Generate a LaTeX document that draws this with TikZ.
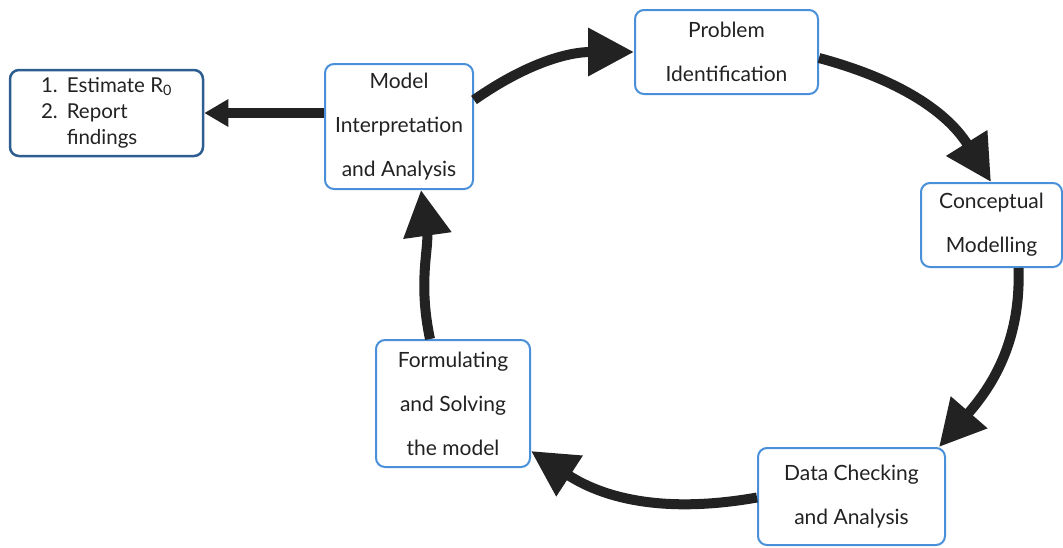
\documentclass[tikz,border=0pt]{standalone}
\usepackage{fontspec}
\setmainfont{Lato}
\usetikzlibrary{arrows.meta,positioning}
\definecolor{boxblue}{RGB}{74,144,217}
\definecolor{listblue}{RGB}{46,94,145}
\definecolor{arrowgray}{RGB}{34,34,34}

\begin{document}
\begin{tikzpicture}[x=1pt,y=1pt,>={Triangle[length=46pt,width=46pt]}]
    \tikzstyle{stage}=[rectangle,rounded corners=9pt,draw=boxblue,line width=2pt,align=center,fill=white,inner sep=0pt,text=arrowgray,font=\fontsize{21}{44}\selectfont]
    \tikzstyle{result}=[stage,draw=listblue,line width=2.5pt,font=\fontsize{20.5}{26}\selectfont]
    \tikzstyle{flow}=[draw=arrowgray,line width=10pt]

    \useasboundingbox (0,0) rectangle (1063,-547);

    \node[stage,minimum width=148pt,minimum height=125pt](interp) at (399,-126.5){Model\\Interpretation\\and Analysis};
    \node[stage,minimum width=183pt,minimum height=84pt](problem) at (726.5,-52){Problem\\Identification};
    \node[stage,minimum width=141pt,minimum height=84pt](concept) at (991.5,-225){Conceptual\\Modelling};
    \node[stage,minimum width=187pt,minimum height=97pt](data) at (851.5,-496.5){Data Checking\\and Analysis};
    \node[stage,minimum width=154pt,minimum height=127pt](form) at (453,-403.5){Formulating\\and Solving\\the model};
    \node[result,minimum width=193pt,minimum height=86pt](res) at (106.5,-113){%
      \begin{tabular}{@{}r@{\hspace{9pt}}l@{}}1.&Estimate R\textsubscript{0}\\2.&Report\\&findings\end{tabular}};

    \draw[flow,->] ([yshift=26.5pt]interp.east) to[out=35,in=180] (problem.west);
    \draw[flow,->] ([yshift=-6pt]problem.east) to[out=-15,in=122] ([xshift=-0.5pt]concept.north);
    \draw[flow,->] ([xshift=27pt]concept.south) to[out=-88,in=49] ([xshift=-7pt]data.north east);
    \draw[flow,->] ([yshift=-1pt]data.west) to[out=190,in=-33] ([yshift=17pt]form.south east);
    \draw[flow,->] ([xshift=-23pt]form.north) to[out=102,in=-82] ([xshift=22pt]interp.south);
    \draw[flow,-{Triangle[length=24pt,width=26pt]}] (res.east -| interp.west) -- (res.east);
\end{tikzpicture}
\end{document}
